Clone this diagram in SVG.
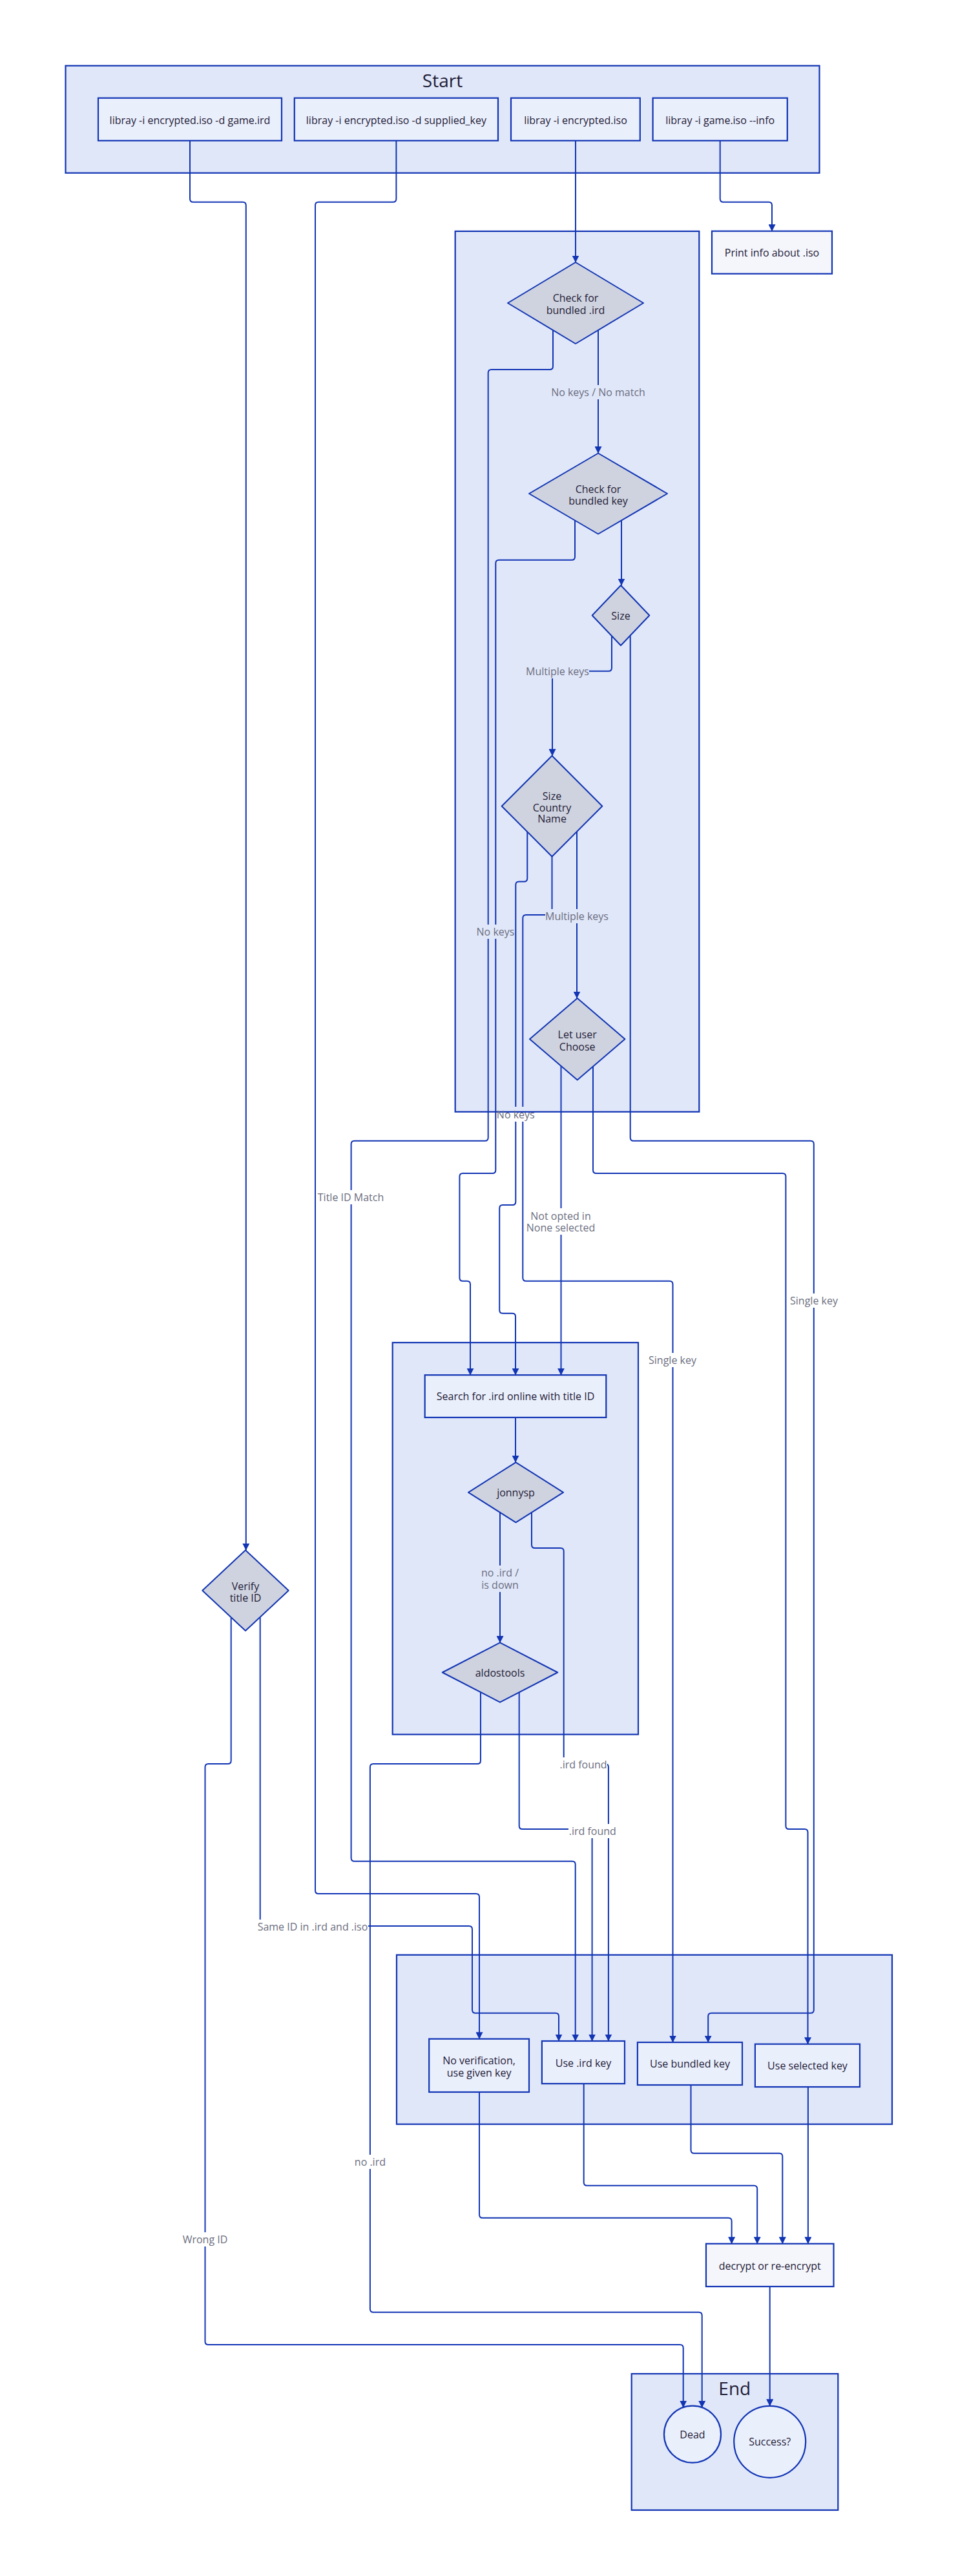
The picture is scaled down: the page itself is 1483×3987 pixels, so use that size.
<svg xmlns="http://www.w3.org/2000/svg" width="1483" height="3987" viewBox="0 0 1483 3987">
<defs>
<marker id="arr" viewBox="0 0 10 10" refX="9.5" refY="5" markerWidth="11" markerHeight="11" markerUnits="userSpaceOnUse" orient="auto"><path d="M0,0 L10,5 L0,10 z" fill="#1235b4"/></marker>
<style>
.cl{fill:#e0e7f9;stroke:#1235b4;stroke-width:2.2}
.nd{fill:#eaeffc;stroke:#1235b4;stroke-width:2.2}
.ndo{fill:#f5f6fc;stroke:#1235b4;stroke-width:2.2}
.dc{fill:#cfd3df;stroke:#1235b4;stroke-width:2;stroke-linejoin:round}
.e{fill:none;stroke:#1235b4;stroke-width:2;marker-end:url(#arr)}
text{font-family:"Open Sans","Noto Sans",sans-serif;font-size:16px;text-anchor:middle;dominant-baseline:central}
.t{fill:#1f2037}
.ttl{font-size:28px;fill:#1f2037}
.l{fill:#6b6e80}
.bw{fill:#ffffff}
.bc{fill:#e0e7f9}
</style>
</defs>

<!-- clusters -->
<g id="cluster-start"><rect class="cl" x="101.5" y="101.7" width="1167" height="166"/><text class="ttl" x="685" y="124">Start</text></g>
<g id="cluster-main"><rect class="cl" x="704.7" y="357.9" width="377.6" height="1362.9"/></g>
<g id="cluster-search"><rect class="cl" x="607.7" y="2078" width="380.3" height="606.5"/></g>
<g id="cluster-use"><rect class="cl" x="614" y="3025.7" width="767" height="262"/></g>
<g id="cluster-end"><rect class="cl" x="977.7" y="3674" width="319.6" height="211"/><text class="ttl" x="1137.3" y="3696">End</text></g>

<!-- connectors -->
<g id="connectors">
<path class="e" d="M891,217.7 V406"/>
<path class="e" d="M1114.7,217.7 V307.7 Q1114.7,312.7 1119.7,312.7 H1190 Q1195,312.7 1195,317.7 V357.7"/>
<path class="e" d="M294,217.7 V307.7 Q294,312.7 299,312.7 H375.8 Q380.8,312.7 380.8,317.7 V2399.3"/>
<path class="e" d="M613.4,217.7 V307.7 Q613.4,312.7 608.4,312.7 H493 Q488,312.7 488,317.7 V2926 Q488,2931 493,2931 H737 Q742,2931 742,2936 V3155.7"/>
<path class="e" d="M926,511 V701.5"/>
<path class="e" d="M856,511 V567 Q856,572 851,572 H760.7 Q755.7,572 755.7,577 V1760.7 Q755.7,1765.7 750.7,1765.7 H548.6 Q543.6,1765.7 543.6,1770.7 V2875.7 Q543.6,2880.7 548.6,2880.7 H885.7 Q890.7,2880.7 890.7,2885.7 V3159"/>
<path class="e" d="M890,805.5 V861.8 Q890,866.8 885,866.8 H772.3 Q767.3,866.8 767.3,871.8 V1811 Q767.3,1816 762.3,1816 H716.4 Q711.4,1816 711.4,1821 V1977.7 Q711.4,1982.7 716.4,1982.7 H723 Q728,1982.7 728,1987.7 V2128.2"/>
<path class="e" d="M962,805.5 V906"/>
<path class="e" d="M947,984.3 V1033.8 Q947,1038.8 942,1038.8 H860 Q855,1038.8 855,1043.8 V1169.7"/>
<path class="e" d="M975.7,984.3 V1760.7 Q975.7,1765.7 980.7,1765.7 H1254.8 Q1259.8,1765.7 1259.8,1770.7 V3110.7 Q1259.8,3115.7 1254.8,3115.7 H1101.2 Q1096.2,3115.7 1096.2,3120.7 V3161"/>
<path class="e" d="M816.3,1287.4 V1359.5 Q816.3,1364.5 811.3,1364.5 H803.3 Q798.3,1364.5 798.3,1369.5 V1860 Q798.3,1865 793.3,1865 H778.2 Q773.2,1865 773.2,1870 V2027.7 Q773.2,2032.7 778.2,2032.7 H793 Q798,2032.7 798,2037.7 V2128.2"/>
<path class="e" d="M854.5,1325.7 V1411 Q854.5,1416 849.5,1416 H814.3 Q809.3,1416 809.3,1421 V1977.7 Q809.3,1982.7 814.3,1982.7 H1036.5 Q1041.5,1982.7 1041.5,1987.7 V3161"/>
<path class="e" d="M893,1287.4 V1545"/>
<path class="e" d="M868.5,1650 V2128.2"/>
<path class="e" d="M918,1650 V1811 Q918,1816 923,1816 H1211.4 Q1216.4,1816 1216.4,1821 V2826 Q1216.4,2831 1221.4,2831 H1245.5 Q1250.5,2831 1250.5,2836 V3163.7"/>
<path class="e" d="M798,2193.9 V2263.3"/>
<path class="e" d="M774,2341 V2542.4"/>
<path class="e" d="M823,2341 V2391 Q823,2396 828,2396 H867.7 Q872.7,2396 872.7,2401 V2725 Q872.7,2730 877.7,2730 H936.9 Q941.9,2730 941.9,2735 V3159"/>
<path class="e" d="M744,2619.2 V2725 Q744,2730 739,2730 H577.9 Q572.9,2730 572.9,2735 V3573.7 Q572.9,3578.7 577.9,3578.7 H1081.7 Q1086.7,3578.7 1086.7,3583.7 V3726.2"/>
<path class="e" d="M803.7,2619.2 V2826 Q803.7,2831 808.7,2831 H911.6 Q916.6,2831 916.6,2836 V3159"/>
<path class="e" d="M357.7,2503.2 V2725 Q357.7,2730 352.7,2730 H322.5 Q317.5,2730 317.5,2735 V3624 Q317.5,3629 322.5,3629 H1052.7 Q1057.7,3629 1057.7,3634 V3726.1"/>
<path class="e" d="M402.7,2503.2 V2976 Q402.7,2981 407.7,2981 H726 Q731,2981 731,2986 V3110.7 Q731,3115.7 736,3115.7 H860 Q865,3115.7 865,3120.7 V3159"/>
<path class="e" d="M742,3238 V3427.7 Q742,3432.7 747,3432.7 H1127.6 Q1132.6,3432.7 1132.6,3437.7 V3472.7"/>
<path class="e" d="M903.7,3225 V3377.7 Q903.7,3382.7 908.7,3382.7 H1167.2 Q1172.2,3382.7 1172.2,3387.7 V3472.7"/>
<path class="e" d="M1069.5,3227 V3327.7 Q1069.5,3332.7 1074.5,3332.7 H1206.3 Q1211.3,3332.7 1211.3,3337.7 V3472.7"/>
<path class="e" d="M1250.9,3230 V3472.7"/>
<path class="e" d="M1191.7,3539 V3723.8"/>
</g>

<!-- edge labels -->
<g id="edge-labels">
<rect class="bc" x="852" y="596" width="148" height="22"/><text class="l" x="926" y="607">No keys / No match</text>
<rect class="bc" x="814" y="1028" width="98" height="22"/><text class="l" x="863" y="1039">Multiple keys</text>
<rect class="bc" x="844" y="1407" width="98" height="22"/><text class="l" x="893" y="1418">Multiple keys</text>
<rect class="bc" x="738" y="1431" width="58" height="22"/><text class="l" x="767" y="1442">No keys</text>
<rect class="bc" x="769" y="1713" width="59" height="8"/><rect class="bw" x="769" y="1721" width="59" height="15"/><line x1="769" y1="1720.8" x2="828" y2="1720.8" stroke="#1235b4" stroke-width="2.2"/><text class="l" x="798.3" y="1724.7">No keys</text>
<rect class="bw" x="491" y="1842" width="104" height="22"/><text class="l" x="543" y="1853">Title ID Match</text>
<rect class="bw" x="815" y="1870" width="106" height="41"/><text class="l" x="868" y="1881.7">Not opted in</text><text class="l" x="868" y="1900">None selected</text>
<rect class="bw" x="1222" y="2002" width="76" height="22"/><text class="l" x="1260" y="2012.7">Single key</text>
<rect class="bw" x="1003" y="2094" width="76" height="22"/><text class="l" x="1041" y="2105">Single key</text>
<rect class="bc" x="744" y="2423" width="60" height="41"/><text class="l" x="774" y="2434">no .ird /</text><text class="l" x="774" y="2452.7">is down</text>
<rect class="bw" x="866" y="2720" width="74" height="22"/><text class="l" x="903" y="2730.7">.ird found</text>
<rect class="bw" x="880" y="2823" width="74" height="22"/><text class="l" x="917.3" y="2833.7">.ird found</text>
<rect class="bw" x="398" y="2971" width="172" height="22"/><text class="l" x="484" y="2981.7">Same ID in .ird and .iso</text>
<rect class="bw" x="548" y="3335" width="50" height="22"/><text class="l" x="572.9" y="3345.7">no .ird</text>
<rect class="bw" x="281" y="3455" width="73" height="22"/><text class="l" x="317.5" y="3465.7">Wrong ID</text>
</g>

<!-- nodes -->
<g id="n-cmd-ird"><rect class="nd" x="152" y="151.7" width="284" height="66"/><text class="t" x="294" y="185.7">libray -i encrypted.iso -d game.ird</text></g>
<g id="n-cmd-key"><rect class="nd" x="455.8" y="151.7" width="315.2" height="66"/><text class="t" x="613.4" y="185.7">libray -i encrypted.iso -d supplied_key</text></g>
<g id="n-cmd-iso"><rect class="nd" x="791" y="151.7" width="199.8" height="66"/><text class="t" x="891" y="185.7">libray -i encrypted.iso</text></g>
<g id="n-cmd-info"><rect class="nd" x="1010.6" y="151.7" width="208.2" height="66"/><text class="t" x="1114.7" y="185.7">libray -i game.iso --info</text></g>
<g id="n-print"><rect class="ndo" x="1102" y="357.7" width="186" height="66"/><text class="t" x="1195" y="390.7">Print info about .iso</text></g>

<g id="n-check-ird"><polygon class="dc" points="891,406 996,469 891,532 786,469"/><text class="t" x="891" y="461">Check for</text><text class="t" x="891" y="480">bundled .ird</text></g>
<g id="n-check-key"><polygon class="dc" points="926,701.5 1033,764 926,826.5 819,764"/><text class="t" x="926" y="757">Check for</text><text class="t" x="926" y="775">bundled key</text></g>
<g id="n-size"><polygon class="dc" points="961,906 1005.3,952.5 961,999 916.7,952.5"/><text class="t" x="961" y="952.5">Size</text></g>
<g id="n-scn"><polygon class="dc" points="854.5,1169.7 932.3,1247.7 854.5,1325.7 776.7,1247.7"/><text class="t" x="854.5" y="1231.7">Size</text><text class="t" x="854.5" y="1249.6">Country</text><text class="t" x="854.5" y="1267">Name</text></g>
<g id="n-choose"><polygon class="dc" points="893.7,1545 967.4,1608.2 893.7,1671.4 820,1608.2"/><text class="t" x="893.7" y="1601">Let user</text><text class="t" x="893.7" y="1619.5">Choose</text></g>

<g id="n-search"><rect class="nd" x="657.7" y="2128.2" width="280.6" height="65.7"/><text class="t" x="798" y="2161">Search for .ird online with title ID</text></g>
<g id="n-jonnysp"><polygon class="dc" points="798.5,2263.3 872,2309.8 798.5,2356.3 725,2309.8"/><text class="t" x="798.5" y="2309.8">jonnysp</text></g>
<g id="n-aldostools"><polygon class="dc" points="774,2542.4 863.2,2588.5 774,2634.6 684.8,2588.5"/><text class="t" x="774" y="2588.5">aldostools</text></g>
<g id="n-verify"><polygon class="dc" points="380,2399.3 446.7,2461.7 380,2524 313.3,2461.7"/><text class="t" x="380" y="2455">Verify</text><text class="t" x="380" y="2472.7">title ID</text></g>

<g id="n-noverify"><rect class="nd" x="664.2" y="3155.7" width="154.8" height="82.3"/><text class="t" x="741.6" y="3189">No verification,</text><text class="t" x="741.6" y="3208.3">use given key</text></g>
<g id="n-useird"><rect class="nd" x="838.9" y="3159" width="128.1" height="66"/><text class="t" x="903" y="3192.7">Use .ird key</text></g>
<g id="n-usebundled"><rect class="nd" x="986.9" y="3161" width="162.1" height="66"/><text class="t" x="1068" y="3194.3">Use bundled key</text></g>
<g id="n-useselected"><rect class="nd" x="1168.9" y="3163.7" width="162.1" height="66.3"/><text class="t" x="1250" y="3197.3">Use selected key</text></g>
<g id="n-decrypt"><rect class="ndo" x="1093" y="3472.7" width="197.5" height="66.3"/><text class="t" x="1191.7" y="3506.7">decrypt or re-encrypt</text></g>
<g id="n-dead"><circle class="nd" cx="1072" cy="3767.7" r="44"/><text class="t" x="1072" y="3767.7">Dead</text></g>
<g id="n-success"><circle class="nd" cx="1191.7" cy="3779.3" r="55.5"/><text class="t" x="1191.7" y="3779.3">Success?</text></g>
</svg>
